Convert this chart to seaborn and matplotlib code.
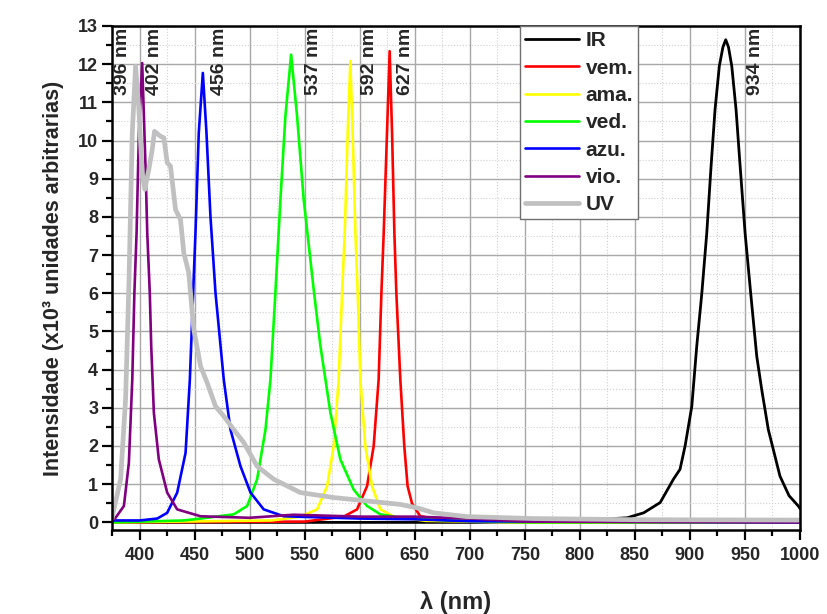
import matplotlib
matplotlib.use("Agg")
import matplotlib.pyplot as plt
import seaborn as sns
import pandas as pd
from matplotlib.ticker import MultipleLocator

# ---- data ----
ir_x = [375, 700, 800, 818, 843, 858, 873, 885, 891, 895.6, 901.7, 906.2, 910.8, 915.3, 919.2, 922.8, 926.7, 930,
        932.5, 935, 938, 941.9, 945.6, 950.1, 955.2, 960.7, 965.2, 971.2, 981.8, 990, 998.4, 1000]
ir_y = [0.0, 0.0, 0.03, 0.08, 0.12, 0.25, 0.52, 1.13, 1.39, 2.0, 3.04, 4.62, 6.0, 7.58, 9.33, 10.81, 11.95, 12.45,
        12.64, 12.45, 11.95, 10.81, 9.33, 7.58, 6.0, 4.35, 3.48, 2.43, 1.21, 0.7, 0.43, 0.36]

vem_x = [375, 550, 585.4, 597.6, 606.7, 612.7, 617.2, 619.7, 621.8, 624.8, 627.2, 629.4, 631.5, 633.3, 636.9,
         640.5, 643.5, 647.5, 655, 680, 750, 1000]
vem_y = [0.0, 0.02, 0.15, 0.34, 0.95, 2.0, 3.74, 6.0, 7.58, 10.2, 12.34, 10.2, 7.58, 6.0, 3.74,
         2.0, 0.95, 0.5, 0.16, 0.05, 0.0, 0.0]

ama_x = [375, 520, 546, 561.3, 570.4, 576.4, 580.9, 584, 586.4, 589.1, 591.5, 593.6, 596.1, 598.2, 600.6,
         605.1, 611.2, 618.8, 630.8, 660, 750, 1000]
ama_y = [0.0, 0.05, 0.15, 0.34, 0.95, 2.0, 3.74, 6.0, 7.58, 10.2, 12.08, 10.2, 7.58, 6.0, 3.74,
         2.0, 0.95, 0.34, 0.15, 0.04, 0.0, 0.0]

ved_x = [375, 440, 455.4, 485.6, 497.8, 506.8, 514.4, 518.9, 523.4, 528, 532.5, 537.7, 543.1, 549.1, 558.2,
         564.3, 573.4, 582.4, 594.5, 606.7, 618.8, 637, 680, 750, 1000]
ved_y = [0.0, 0.05, 0.1, 0.21, 0.43, 1.13, 2.43, 3.74, 6.01, 8.46, 10.64, 12.25, 10.64, 8.46, 6.1,
         4.62, 2.87, 1.65, 0.86, 0.43, 0.21, 0.12, 0.05, 0.0, 0.0]

azu_x = [375, 400, 416.1, 425.1, 434.2, 441.8, 445.7, 448.7, 450.8, 453.8, 457.5, 460.8, 464.4, 469, 476.5,
         482.6, 491.7, 500.8, 512.8, 531, 600, 650, 700, 1000]
azu_y = [0.05, 0.05, 0.1, 0.25, 0.78, 1.82, 3.74, 6.01, 7.58, 10.2, 11.77, 10.2, 8.02, 6.01, 3.74,
         2.43, 1.47, 0.78, 0.34, 0.16, 0.1, 0.08, 0.03, 0.0]

vio_x = [375, 378.2, 385.8, 390.3, 393.4, 395.3, 397.3, 399.4, 402.4, 405.4, 407, 409.3, 410.6, 413, 417.5,
         425.1, 434.2, 455.4, 500, 540, 600, 650, 700, 750, 1000]
vio_y = [0.05, 0.12, 0.43, 1.56, 3.74, 6.0, 7.58, 10.2, 12.03, 9.33, 7.58, 6.01, 4.62, 2.87, 1.65,
         0.78, 0.34, 0.16, 0.12, 0.2, 0.15, 0.15, 0.1, 0.02, 0.0]

uv_x = [375, 376.7, 382.8, 387.3, 390.3, 393.4, 396.4, 399.4, 402.4, 404.8, 408.4, 411.5, 413.6, 419.1, 422.1,
        425.1, 428.1, 432.7, 437.2, 440.2, 444.7, 446.3, 449.3, 455.4, 461.4, 469, 476.5, 485.6, 494.7,
        506.8, 521.9, 546.1, 576.4, 606.7, 636.9, 652.1, 667.1, 697.4, 757.9, 850, 1000]
uv_y = [0.1, 0.34, 1.13, 3.22, 6.2, 10.2, 11.95, 10.81, 9.15, 8.72, 9.24, 9.76, 10.24, 10.11, 10.07,
        9.42, 9.33, 8.19, 7.93, 7.06, 6.54, 6.01, 5.05, 4.09, 3.66, 3.04, 2.78, 2.43, 2.09,
        1.47, 1.13, 0.78, 0.65, 0.56, 0.47, 0.38, 0.25, 0.15, 0.1, 0.07, 0.06]

series_names = ["IR", "vem.", "ama.", "ved.", "azu.", "vio.", "UV"]
series_x = [ir_x, vem_x, ama_x, ved_x, azu_x, vio_x, uv_x]
series_y = [ir_y, vem_y, ama_y, ved_y, azu_y, vio_y, uv_y]

peak_labels = ["396 nm", "402 nm", "456 nm", "537 nm", "592 nm", "627 nm", "934 nm"]
peak_label_x = [384.6, 413.5, 472.5, 558, 609, 641.4, 960]

x_ticks = [400, 450, 500, 550, 600, 650, 700, 750, 800, 850, 900, 950, 1000]
y_ticks = list(range(0, 14))

# ---- styling ----
colors = {"IR": "#000000", "vem.": "#ff0000", "ama.": "#ffff00", "ved.": "#00ff00",
          "azu.": "#0000ff", "vio.": "#800080", "UV": "#c0c0c0"}
widths = {"IR": 2.0, "vem.": 1.9, "ama.": 1.9, "ved.": 1.9, "azu.": 1.9, "vio.": 1.9, "UV": 3.4}

sns.set_style("white")
plt.rcParams["font.family"] = ["Liberation Sans", "DejaVu Sans"]
plt.rcParams["font.weight"] = "bold"
plt.rcParams["axes.labelweight"] = "bold"

fig = plt.figure(figsize=(8.28, 6.14), dpi=100)
ax = fig.add_axes([0.1353, 0.1368, 0.8309, 0.8209])

frames = []
for name, xs, ys in zip(series_names, series_x, series_y):
    frames.append(pd.DataFrame({"wl": xs, "I": ys, "serie": name}))
df = pd.concat(frames, ignore_index=True)

for name in series_names:
    sub = df[df["serie"] == name]
    sns.lineplot(data=sub, x="wl", y="I", ax=ax, color=colors[name], linewidth=widths[name],
                 label=name, estimator=None, sort=True)

ax.set_xlim(375, 1000)
ax.set_ylim(-0.2, 13)
ax.set_xticks(x_ticks)
ax.set_yticks(y_ticks)
ax.xaxis.set_minor_locator(MultipleLocator(25))
ax.yaxis.set_minor_locator(MultipleLocator(0.5))

ax.grid(True, which="major", color="#a8a8a8", linewidth=1.0, linestyle="-", zorder=0)
ax.grid(True, which="minor", color="#d0d0d0", linewidth=0.8, linestyle=":", zorder=0)
ax.set_axisbelow(True)

for s in ax.spines.values():
    s.set_visible(True)
    s.set_color("black")
    s.set_linewidth(1.8)

ax.tick_params(axis="both", which="major", direction="out", length=7, width=1.6,
               labelsize=13, color="black", bottom=True, left=True, top=False, right=False)
ax.tick_params(axis="both", which="minor", direction="out", length=4, width=1.6,
               color="black", bottom=True, left=True, top=False, right=False)
ax.tick_params(axis="x", which="major", pad=5)
ax.tick_params(axis="y", which="major", pad=3)
for lab in ax.get_xticklabels() + ax.get_yticklabels():
    lab.set_fontweight("bold")

ax.set_xlabel("λ (nm)", fontsize=17, fontweight="bold", labelpad=20)
ax.set_ylabel("Intensidade (x10³ unidades arbitrarias)", fontsize=15.5, fontweight="bold", labelpad=10)

for txt, xv in zip(peak_labels, peak_label_x):
    ax.text(xv, 12.96, txt, rotation=90, ha="center", va="top", fontsize=14, fontweight="bold")

leg = ax.legend(loc="upper left", bbox_to_anchor=(0.593, 1.0), frameon=True, fancybox=False,
                framealpha=1, edgecolor="#707070", borderaxespad=0, borderpad=0.25,
                handlelength=2.6, handletextpad=0.3, labelspacing=0.4,
                prop={"size": 15, "weight": "bold"})
leg.get_frame().set_linewidth(1.0)

fig.savefig("out.png", dpi=100)
